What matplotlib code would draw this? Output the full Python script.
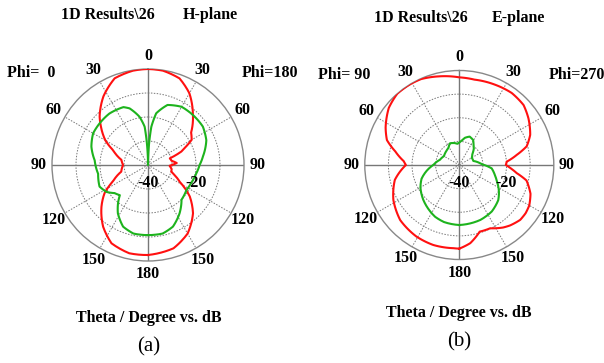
import numpy as np
import matplotlib.pyplot as plt

# angles in degrees measured from theta=0 (top); negative = left half of the plot
h_red_theta = [-180, -168, -155, -144, -132, -123, -115, -104, -90, -79, -67, -60, -51, -45, -33, -21, -9,
               0, 9, 20, 30, 41, 53, 60, 64, 68, 73, 80, 86, 92, 100, 106, 110, 118, 127, 137, 150, 163, 180]
h_red_db = [-2.5, -2.4, -4, -8.2, -13.9, -18.4, -23.9, -28.5, -29.6, -28.7, -24.2, -19.5, -14.8, -11.5, -5.9, -1.3, -0.2,
            0, -0.2, -1.6, -5.5, -11.5, -17.5, -19, -22.3, -25, -30.5, -30, -28, -31, -30, -29.9, -28.5, -25, -18.2, -12.5, -7, -3.7, -2.5]

h_grn_theta = [-180, -168, -158, -148, -142, -137, -130, -123, -114, -100, -85, -72, -60, -49, -37, -23, -18, -10, -5, -2,
               0, 2, 5, 9, 18, 30, 42, 55, 67, 81, 90, 100, 112, 123, 136, 147, 158, 168, 180]
h_grn_db = [-10.8, -10.8, -12.3, -16.3, -19.7, -22.8, -21.8, -19.4, -17.9, -18.9, -17.7, -15.2, -13.6, -13.4, -13.2, -13.8, -15.2, -19.6, -24, -34,
            -40, -34, -24, -18.2, -13.7, -12, -12, -12.1, -13.6, -16.8, -18.5, -19.6, -20.5, -20.9, -19.9, -15.9, -12.3, -10.8, -10.8]

e_red_theta = [-180, -176, -162, -149, -133, -118, -103, -90, -86, -78, -71, -63, -51, -41, -31, -24, -13,
               0, 10, 24, 36, 47, 56, 67, 74.5, 80, 86, 90, 94, 98, 103, 112, 120, 126, 132, 140, 145, 154, 163, 172, 180]
e_red_db = [-4.6, -4.7, -4.4, -4.7, -5.8, -8.4, -12, -17.4, -16.4, -12.3, -7.6, -5, -1.6, 0, 0, -0.2, -1.5,
            -2.9, -3.3, -2.8, -2.3, -2.8, -4.7, -7.4, -10.4, -15.3, -19.9, -20.3, -18, -15.5, -10.8, -7.5, -5.8, -5.3, -5.3, -6.6, -7.7, -10.2, -10.5, -6.6, -4.6]

e_grn_theta = [-180, -165, -155, -134, -120, -110, -100, -90, -75, -60, -45, -33, -23, -12, -5,
               0, 5, 12, 20, 29, 35, 41, 50, 60, 74, 88, 96, 105, 112, 125, 132, 145, 159, 180]
e_grn_db = [-14.6, -15, -15.8, -18.8, -21, -23, -26, -29, -31.5, -32.5, -32, -31.5, -30, -30.5, -31,
            -30.5, -29.8, -28.2, -27.2, -27.9, -29.5, -30.6, -32.8, -33.9, -33.8, -30.5, -26.2, -24.5, -23, -19.5, -17.8, -16, -15.1, -14.6]

tick_deg = list(range(0, 360, 30))
tick_lbl = ['0', '30', '60', '90', '120', '150', '180', '150', '120', '90', '60', '30']

bold = dict(family='Liberation Serif', weight='bold')

fig = plt.figure(figsize=(6.04, 3.63), dpi=100)


def polar_panel(rect, red_t, red_v, grn_t, grn_v):
    ax = fig.add_axes(rect, projection='polar')
    ax.set_theta_zero_location('N')
    ax.set_theta_direction(-1)
    ax.set_ylim(-40, 0)
    ax.set_yticks([-30, -20, -10])
    ax.set_yticklabels([])
    ax.set_xticks(np.deg2rad(tick_deg))
    ax.set_xticklabels(tick_lbl, fontsize=11.5, **bold)
    ax.tick_params(axis='x', pad=-1)
    ax.grid(True, linestyle=(0, (1.5, 1.5)), color='#777777', linewidth=0.7)
    ax.spines['polar'].set_color('#888888')
    ax.spines['polar'].set_linewidth(1.0)
    for a in [0, 90, 180, 270]:
        ax.plot([np.deg2rad(a)] * 2, [-40, 0], color='#777777', lw=1.0, zorder=1)
    for t, v, c in [(red_t, red_v, '#ff1010'), (grn_t, grn_v, '#1db31d')]:
        ln, = ax.plot(np.deg2rad(t), v, color=c, lw=1.5, zorder=3, solid_joinstyle='round')
        ln.get_path()._interpolation_steps = 12
    ax.annotate('-40', xy=(np.pi / 2, -40), xytext=(0, -13), textcoords='offset points',
                ha='center', va='center', fontsize=11.5, **bold)
    ax.annotate('-20', xy=(np.pi / 2, -20), xytext=(0, -13), textcoords='offset points',
                ha='center', va='center', fontsize=11.5, **bold)
    return ax


polar_panel([52 / 604, 102 / 363, 192 / 604, 192 / 363], h_red_theta, h_red_db, h_grn_theta, h_grn_db)
polar_panel([364.8 / 604, 103.5 / 363, 189 / 604, 189 / 363], e_red_theta, e_red_db, e_grn_theta, e_grn_db)


def ftext(x, y, s, **kw):
    fig.text(x / 604, 1 - y / 363, s, ha='center', va='center', **kw)


ftext(108, 15, '1D Results\\26', fontsize=11.5, **bold)
ftext(210, 15, 'H-plane', fontsize=11.5, **bold)
ftext(421, 18, '1D Results\\26', fontsize=11.5, **bold)
ftext(518, 18, 'E-plane', fontsize=11.5, **bold)
ftext(31, 73, 'Phi=  0', fontsize=11.5, **bold)
ftext(270, 73, 'Phi=180', fontsize=11.5, **bold)
ftext(344, 75, 'Phi= 90', fontsize=11.5, **bold)
ftext(577, 75, 'Phi=270', fontsize=11.5, **bold)
ftext(149, 318, 'Theta / Degree vs. dB', fontsize=11.5, **bold)
ftext(459, 313, 'Theta / Degree vs. dB', fontsize=11.5, **bold)
ftext(149, 347, '(a)', fontsize=15, family='Liberation Serif')
ftext(459, 342, '(b)', fontsize=15, family='Liberation Serif')

fig.savefig('out.png', dpi=100)
